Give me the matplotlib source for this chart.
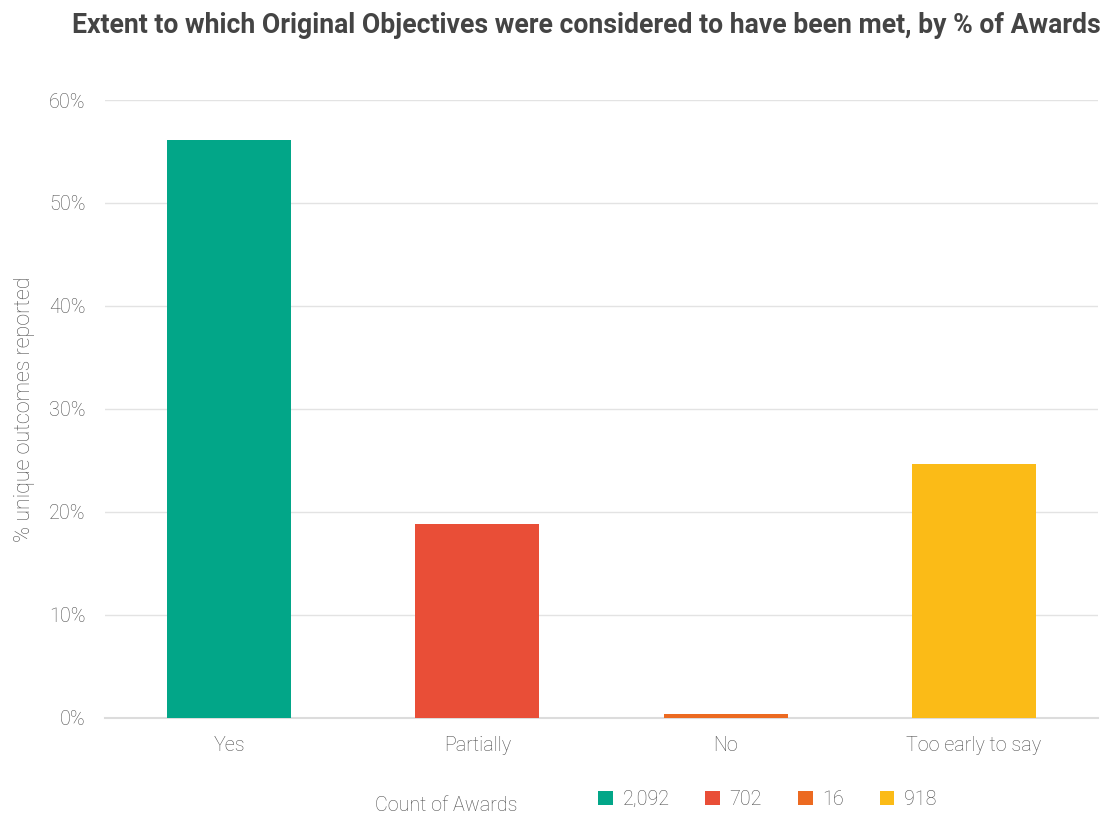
import matplotlib.pyplot as plt
from matplotlib.ticker import FuncFormatter
from matplotlib.patches import Patch

categories = ["Yes", "Partially", "No", "Too early to say"]
award_counts = [2092, 702, 16, 918]
colors = ["#02a688", "#e94e37", "#ec6a21", "#fbbb17"]

total = sum(award_counts)
shares = [c / total for c in award_counts]

plt.rcParams["font.family"] = ["Roboto", "DejaVu Sans"]
label_color = "#4d4d4d"

fig = plt.figure(figsize=(11.08, 8.17), dpi=100)
ax = fig.add_axes([0.0948, 0.1212, 0.8962, 0.7564])

x = range(len(categories))
ax.bar(x, shares, width=0.5, color=colors, zorder=3)

ax.set_xlim(-0.5, len(categories) - 0.5)
ax.set_ylim(0, 0.6)
ax.set_yticks([0, 0.1, 0.2, 0.3, 0.4, 0.5, 0.6])
ax.yaxis.set_major_formatter(FuncFormatter(lambda v, _: f"{v:.0%}"))
ax.set_xticks(list(x))
ax.set_xticklabels(categories)

ax.grid(axis="y", color="#e3e3e3", linewidth=1, zorder=0)
for s in ["top", "right", "left"]:
    ax.spines[s].set_visible(False)
ax.spines["bottom"].set_color("#dcdcdc")
ax.spines["bottom"].set_linewidth(1.5)
ax.tick_params(axis="both", length=0, labelsize=14.2, labelcolor=label_color)
ax.tick_params(axis="y", pad=14)
ax.tick_params(axis="x", pad=13)
for t in ax.get_xticklabels() + ax.get_yticklabels():
    t.set_fontweight("light")

ax.set_ylabel("% unique outcomes reported", fontsize=15.5, color=label_color,
              fontweight="light", labelpad=10)

fig.text(0.529, 0.969, "Extent to which Original Objectives were considered to have been met, by % of Awards",
         ha="center", va="center", fontsize=19.2, fontweight="bold", color="#444444")

# legend row along the bottom
fig.text(0.3385, 0.003, "Count of Awards", ha="left", va="bottom", fontsize=14.2,
         color=label_color, fontweight="light")
handles = [Patch(facecolor=c) for c in colors]
leg = fig.legend(handles, [f"{c:,}" for c in award_counts], ncol=4,
                 loc="lower left", bbox_to_anchor=(0.5235, -0.012), frameon=False,
                 handlelength=0.75, handleheight=0.75, handletextpad=0.5,
                 columnspacing=1.8, prop={"size": 14.2, "weight": "light"})
for t in leg.get_texts():
    t.set_color(label_color)

fig.savefig("out.png", dpi=100)
